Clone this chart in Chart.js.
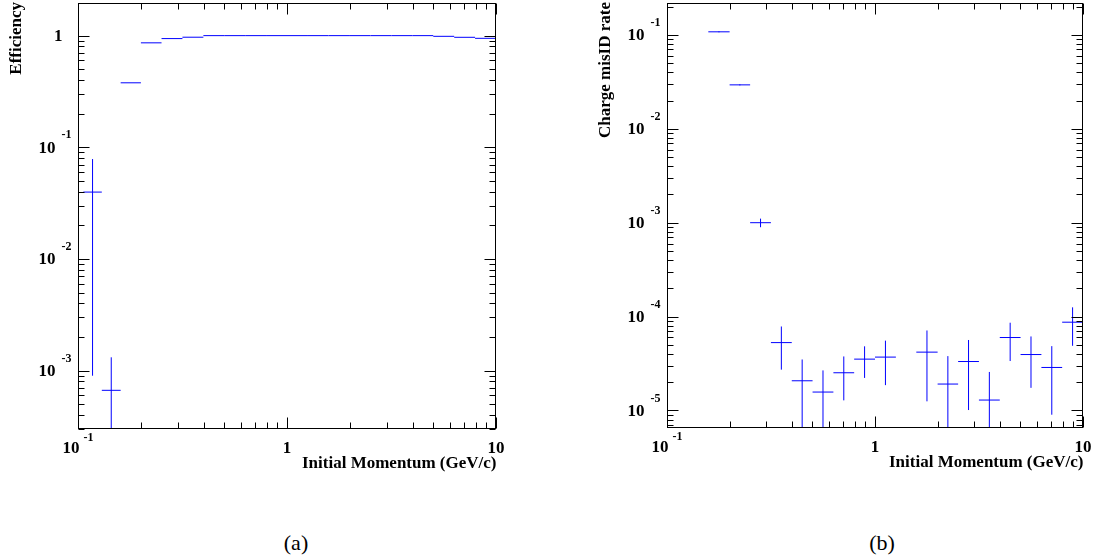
<!DOCTYPE html>
<html>
<head>
<meta charset="utf-8">
<script src="https://cdn.jsdelivr.net/npm/chart.js@4.4.1/dist/chart.umd.min.js"></script>
<style>
  body { margin: 0; background: #fff; width: 1096px; height: 560px; position: relative; overflow: hidden; }
  canvas { position: absolute; top: 0; }
  #effChart { left: 0; }
  #misChart { left: 548px; }
  .caption { position: absolute; top: 530px; font: 22px "Liberation Serif", serif; color: #000; transform: translateX(-50%); }
</style>
</head>
<body>
<canvas id="effChart" width="548" height="500"></canvas>
<canvas id="misChart" width="548" height="500"></canvas>
<div class="caption" style="left:296px">(a)</div>
<div class="caption" style="left:882px">(b)</div>
<script>
// (a) efficiency vs initial momentum, bin edges in GeV/c
const effEdges = [0.106, 0.130, 0.160, 0.200, 0.251, 0.316, 0.398, 0.501, 0.631, 0.794, 1.00,
  1.26, 1.58, 2.00, 2.51, 3.16, 3.98, 5.01, 6.31, 7.94, 10];
const effValue = [0.0397, 0.000666, 0.378, 0.862, 0.941, 0.968, 1.0, 1.0, 1.0, 1.0, 1.0,
  1.0, 1.0, 1.0, 1.0, 1.0, 1.0, 0.986, 0.966, 0.946];
const effError = [0.0388, 0.00065, 0, 0, 0, 0, 0, 0, 0, 0, 0,
  0, 0, 0, 0, 0, 0, 0, 0, 0];

// (b) charge misID rate vs initial momentum (empty bin = 0)
const misEdges = [0.158, 0.200, 0.251, 0.316, 0.398, 0.501, 0.631, 0.794, 1.00, 1.26,
  1.58, 2.00, 2.51, 3.16, 3.98, 5.01, 6.31, 7.94, 10];
const misValue = [0.108, 0.0294, 0.00100, 5.28e-5, 2.07e-5, 1.57e-5, 2.52e-5, 3.52e-5, 3.70e-5,
  0, 4.18e-5, 1.91e-5, 3.32e-5, 1.29e-5, 5.98e-5, 3.94e-5, 2.87e-5, 8.71e-5];
const misError = [0.0013, 0.0004, 1.05e-4, 2.56e-5, 1.42e-5, 1.1e-5, 1.24e-5, 1.3e-5, 1.84e-5,
  0, 2.93e-5, 1.88e-5, 2.31e-5, 1.28e-5, 2.62e-5, 2.2e-5, 1.97e-5, 3.83e-5];

const xTitle = "Initial Momentum (GeV/c)";
const blue = "#0000ff";
const labelFont = 'bold 17px "Liberation Serif"';
const supFont = 'bold 12px "Liberation Serif"';

// horizontal bin lines and vertical error lines, broken by null points
function histSegments(edges, values, errors) {
  const horiz = [];
  const vert = [];
  for (let i = 0; i < values.length; i++) {
    const v = values[i];
    if (!(v > 0)) continue;
    const lo = edges[i];
    const hi = edges[i + 1];
    horiz.push({ x: lo, y: v }, { x: hi, y: v }, { x: hi, y: null });
    if (errors[i] > 0) {
      const c = Math.sqrt(lo * hi);
      vert.push({ x: c, y: Math.max(v - errors[i], 1e-12) }, { x: c, y: v + errors[i] }, { x: c, y: null });
    }
  }
  return [horiz, vert];
}

function logTicks(min, max) {
  const out = [];
  for (let d = Math.floor(Math.log10(min)); d <= Math.ceil(Math.log10(max)); d++) {
    for (let m = 1; m <= 9; m++) {
      const v = m * Math.pow(10, d);
      if (v >= min * 0.9999 && v <= max * 1.0001) out.push({ v: v, major: m === 1, exp: d });
    }
  }
  return out;
}

// ROOT-like frame: inward ticks on all four sides, power-of-ten labels
const rootFrame = {
  id: "rootFrame",
  afterDraw(chart, args, opts) {
    const ctx = chart.ctx;
    const a = chart.chartArea;
    const xs = chart.scales.x;
    const ys = chart.scales.y;
    const L = Math.round(a.left) + 0.5;
    const R = Math.round(a.right) - 0.5;
    const T = Math.round(a.top) + 0.5;
    const B = Math.round(a.bottom) - 0.5;
    ctx.save();
    ctx.strokeStyle = "#000";
    ctx.fillStyle = "#000";
    ctx.lineWidth = 1;
    ctx.strokeRect(L, T, R - L, B - T);

    ctx.beginPath();
    logTicks(xs.min, xs.max).forEach(t => {
      const px = Math.round(xs.getPixelForValue(t.v)) + 0.5;
      const len = t.major ? 11 : 6;
      ctx.moveTo(px, B); ctx.lineTo(px, B - len);
      ctx.moveTo(px, T); ctx.lineTo(px, T + len);
    });
    logTicks(ys.min, ys.max).forEach(t => {
      const py = Math.round(ys.getPixelForValue(t.v)) + 0.5;
      const len = t.major ? 11 : 6;
      ctx.moveTo(L, py); ctx.lineTo(L + len, py);
      ctx.moveTo(R, py); ctx.lineTo(R - len, py);
    });
    ctx.stroke();

    // x labels
    ctx.textBaseline = "middle";
    logTicks(xs.min, xs.max).filter(t => t.major).forEach(t => {
      const px = xs.getPixelForValue(t.v);
      if (t.exp === 0 || t.exp === 1) {
        ctx.font = labelFont;
        ctx.textAlign = "center";
        ctx.fillText(t.exp === 0 ? "1" : "10", px, B + 20);
      } else {
        ctx.font = labelFont;
        const w10 = ctx.measureText("10").width;
        ctx.font = supFont;
        const ws = ctx.measureText(String(t.exp)).width;
        const x0 = px - (w10 + 4 + ws) / 2;
        ctx.textAlign = "left";
        ctx.font = labelFont;
        ctx.fillText("10", x0, B + 20);
        ctx.font = supFont;
        ctx.fillText(String(t.exp), x0 + w10 + 4, B + 9);
      }
    });

    // y labels
    logTicks(ys.min, ys.max).filter(t => t.major).forEach(t => {
      const py = ys.getPixelForValue(t.v);
      ctx.textAlign = "right";
      if (t.exp === 0) {
        ctx.font = labelFont;
        ctx.fillText("1", L - 16, py + 1);
      } else {
        ctx.font = supFont;
        const ws = ctx.measureText(String(t.exp)).width;
        ctx.fillText(String(t.exp), L - 7, py - 12);
        ctx.font = labelFont;
        ctx.fillText("10", L - 7 - ws - 6, py + 1);
      }
    });

    // axis titles
    ctx.font = labelFont;
    ctx.textAlign = "right";
    ctx.fillText(opts.xTitle, R + 1, B + 35);
    ctx.save();
    ctx.translate(L - 62, 2);
    ctx.rotate(-Math.PI / 2);
    ctx.textAlign = "right";
    ctx.fillText(opts.yTitle, 0, 0);
    ctx.restore();
    ctx.restore();
  }
};

function makeChart(id, edges, values, errors, yMin, yMax, yTitle, padding) {
  const seg = histSegments(edges, values, errors);
  return new Chart(document.getElementById(id), {
    type: "scatter",
    data: {
      datasets: [
        { data: seg[0], showLine: true, spanGaps: false, borderColor: blue, borderWidth: 1, pointRadius: 0 },
        { data: seg[1], showLine: true, spanGaps: false, borderColor: blue, borderWidth: 1, pointRadius: 0 },
      ],
    },
    options: {
      responsive: false,
      animation: false,
      layout: { padding: padding },
      plugins: {
        legend: { display: false },
        tooltip: { enabled: false },
        rootFrame: { xTitle: xTitle, yTitle: yTitle },
      },
      scales: {
        x: { type: "logarithmic", min: 0.1, max: 10, display: false },
        y: { type: "logarithmic", min: yMin, max: yMax, display: false },
      },
    },
    plugins: [rootFrame],
  });
}

makeChart("effChart", effEdges, effValue, effError, 3.28e-4, 1.96, "Efficiency",
  { left: 78, top: 3, right: 52, bottom: 71 });
makeChart("misChart", misEdges, misValue, misError, 6.5e-6, 0.219, "Charge misID rate",
  { left: 119, top: 3, right: 13, bottom: 72 });
</script>
</body>
</html>
